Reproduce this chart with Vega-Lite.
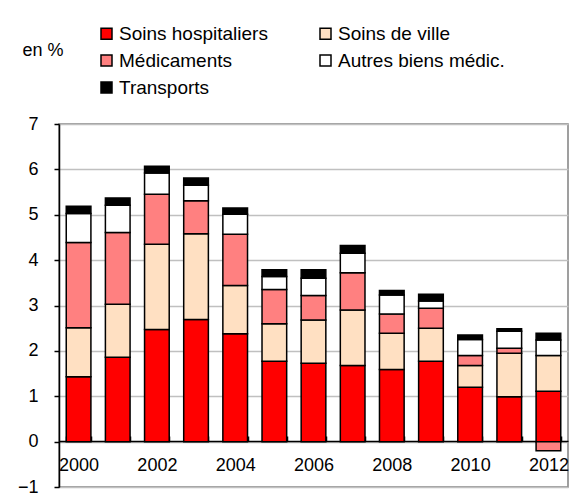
{
  "$schema": "https://vega.github.io/schema/vega-lite/v6.json",
  "width": 509,
  "height": 363,
  "autosize": "none",
  "padding": {"left": 59, "top": 124, "right": 13, "bottom": 12},
  "background": "white",
  "config": {
    "font": "Liberation Sans",
    "view": {"stroke": "#808080", "strokeWidth": 1.5},
    "axis": {"labelFont": "Liberation Sans", "labelFontSize": 18, "labelColor": "black", "titleFont": "Liberation Sans"},
    "legend": {"labelFont": "Liberation Sans"}
  },
  "data": {
    "values": [
      {"year": "2000", "cat": "Soins hospitaliers", "ord": 1, "value": 1.43},
      {"year": "2000", "cat": "Soins de ville", "ord": 2, "value": 1.08},
      {"year": "2000", "cat": "Médicaments", "ord": 3, "value": 1.88},
      {"year": "2000", "cat": "Autres biens médic.", "ord": 4, "value": 0.64},
      {"year": "2000", "cat": "Transports", "ord": 5, "value": 0.16},
      {"year": "2001", "cat": "Soins hospitaliers", "ord": 1, "value": 1.86},
      {"year": "2001", "cat": "Soins de ville", "ord": 2, "value": 1.17},
      {"year": "2001", "cat": "Médicaments", "ord": 3, "value": 1.58},
      {"year": "2001", "cat": "Autres biens médic.", "ord": 4, "value": 0.60},
      {"year": "2001", "cat": "Transports", "ord": 5, "value": 0.16},
      {"year": "2002", "cat": "Soins hospitaliers", "ord": 1, "value": 2.47},
      {"year": "2002", "cat": "Soins de ville", "ord": 2, "value": 1.88},
      {"year": "2002", "cat": "Médicaments", "ord": 3, "value": 1.10},
      {"year": "2002", "cat": "Autres biens médic.", "ord": 4, "value": 0.47},
      {"year": "2002", "cat": "Transports", "ord": 5, "value": 0.15},
      {"year": "2003", "cat": "Soins hospitaliers", "ord": 1, "value": 2.69},
      {"year": "2003", "cat": "Soins de ville", "ord": 2, "value": 1.89},
      {"year": "2003", "cat": "Médicaments", "ord": 3, "value": 0.73},
      {"year": "2003", "cat": "Autres biens médic.", "ord": 4, "value": 0.34},
      {"year": "2003", "cat": "Transports", "ord": 5, "value": 0.16},
      {"year": "2004", "cat": "Soins hospitaliers", "ord": 1, "value": 2.38},
      {"year": "2004", "cat": "Soins de ville", "ord": 2, "value": 1.06},
      {"year": "2004", "cat": "Médicaments", "ord": 3, "value": 1.13},
      {"year": "2004", "cat": "Autres biens médic.", "ord": 4, "value": 0.44},
      {"year": "2004", "cat": "Transports", "ord": 5, "value": 0.14},
      {"year": "2005", "cat": "Soins hospitaliers", "ord": 1, "value": 1.77},
      {"year": "2005", "cat": "Soins de ville", "ord": 2, "value": 0.83},
      {"year": "2005", "cat": "Médicaments", "ord": 3, "value": 0.75},
      {"year": "2005", "cat": "Autres biens médic.", "ord": 4, "value": 0.29},
      {"year": "2005", "cat": "Transports", "ord": 5, "value": 0.15},
      {"year": "2006", "cat": "Soins hospitaliers", "ord": 1, "value": 1.73},
      {"year": "2006", "cat": "Soins de ville", "ord": 2, "value": 0.95},
      {"year": "2006", "cat": "Médicaments", "ord": 3, "value": 0.54},
      {"year": "2006", "cat": "Autres biens médic.", "ord": 4, "value": 0.38},
      {"year": "2006", "cat": "Transports", "ord": 5, "value": 0.19},
      {"year": "2007", "cat": "Soins hospitaliers", "ord": 1, "value": 1.68},
      {"year": "2007", "cat": "Soins de ville", "ord": 2, "value": 1.22},
      {"year": "2007", "cat": "Médicaments", "ord": 3, "value": 0.82},
      {"year": "2007", "cat": "Autres biens médic.", "ord": 4, "value": 0.43},
      {"year": "2007", "cat": "Transports", "ord": 5, "value": 0.17},
      {"year": "2008", "cat": "Soins hospitaliers", "ord": 1, "value": 1.59},
      {"year": "2008", "cat": "Soins de ville", "ord": 2, "value": 0.80},
      {"year": "2008", "cat": "Médicaments", "ord": 3, "value": 0.42},
      {"year": "2008", "cat": "Autres biens médic.", "ord": 4, "value": 0.42},
      {"year": "2008", "cat": "Transports", "ord": 5, "value": 0.10},
      {"year": "2009", "cat": "Soins hospitaliers", "ord": 1, "value": 1.77},
      {"year": "2009", "cat": "Soins de ville", "ord": 2, "value": 0.73},
      {"year": "2009", "cat": "Médicaments", "ord": 3, "value": 0.44},
      {"year": "2009", "cat": "Autres biens médic.", "ord": 4, "value": 0.16},
      {"year": "2009", "cat": "Transports", "ord": 5, "value": 0.15},
      {"year": "2010", "cat": "Soins hospitaliers", "ord": 1, "value": 1.20},
      {"year": "2010", "cat": "Soins de ville", "ord": 2, "value": 0.48},
      {"year": "2010", "cat": "Médicaments", "ord": 3, "value": 0.22},
      {"year": "2010", "cat": "Autres biens médic.", "ord": 4, "value": 0.35},
      {"year": "2010", "cat": "Transports", "ord": 5, "value": 0.10},
      {"year": "2011", "cat": "Soins hospitaliers", "ord": 1, "value": 0.99},
      {"year": "2011", "cat": "Soins de ville", "ord": 2, "value": 0.96},
      {"year": "2011", "cat": "Médicaments", "ord": 3, "value": 0.11},
      {"year": "2011", "cat": "Autres biens médic.", "ord": 4, "value": 0.37},
      {"year": "2011", "cat": "Transports", "ord": 5, "value": 0.06},
      {"year": "2012", "cat": "Soins hospitaliers", "ord": 1, "value": 1.11},
      {"year": "2012", "cat": "Soins de ville", "ord": 2, "value": 0.79},
      {"year": "2012", "cat": "Médicaments", "ord": 3, "value": -0.20},
      {"year": "2012", "cat": "Autres biens médic.", "ord": 4, "value": 0.34},
      {"year": "2012", "cat": "Transports", "ord": 5, "value": 0.15}
    ]
  },
  "mark": {"type": "bar", "stroke": "black", "strokeWidth": 1.5},
  "encoding": {
    "x": {
      "field": "year",
      "type": "ordinal",
      "scale": {"paddingInner": 0.37, "paddingOuter": 0.185},
      "axis": {
        "title": null,
        "labelAngle": 0,
        "offset": -46,
        "domainColor": "black",
        "domainWidth": 1.5,
        "tickColor": "black",
        "tickWidth": 1.5,
        "tickSize": -5,
        "tickBand": "extent",
        "labelPadding": 20,
        "labelExpr": "toNumber(datum.value) % 2 == 0 ? datum.value : ''"
      }
    },
    "y": {
      "field": "value",
      "type": "quantitative",
      "stack": "zero",
      "scale": {"domain": [-1, 7], "nice": false, "zero": false},
      "axis": {
        "values": [-1, 0, 1, 2, 3, 4, 5, 6, 7],
        "title": "en %",
        "titleAngle": 0,
        "titleAlign": "left",
        "titleBaseline": "middle",
        "titleX": -37,
        "titleY": -74,
        "titleFontSize": 18,
        "titleFontWeight": "normal",
        "titleColor": "black",
        "domainColor": "black",
        "domainWidth": 1.5,
        "tickColor": "black",
        "tickWidth": 1.5,
        "tickSize": 5,
        "labelPadding": 16,
        "gridColor": "#c0c0c0",
        "gridWidth": 1.5
      }
    },
    "color": {
      "field": "cat",
      "type": "nominal",
      "scale": {
        "domain": ["Soins hospitaliers", "Médicaments", "Transports", "Soins de ville", "Autres biens médic."],
        "range": ["#ff0000", "#ff8080", "#000000", "#ffe0c2", "#ffffff"]
      },
      "legend": {
        "title": null,
        "orient": "none",
        "legendX": 38,
        "legendY": -100,
        "columns": 2,
        "columnPadding": 48,
        "rowPadding": 7,
        "symbolType": "square",
        "symbolSize": 121,
        "symbolStrokeColor": "black",
        "symbolStrokeWidth": 1.5,
        "symbolOpacity": 1,
        "labelFontSize": 19,
        "labelColor": "black",
        "labelOffset": 3,
        "labelLimit": 400
      }
    },
    "order": {"field": "ord", "type": "quantitative"}
  }
}
